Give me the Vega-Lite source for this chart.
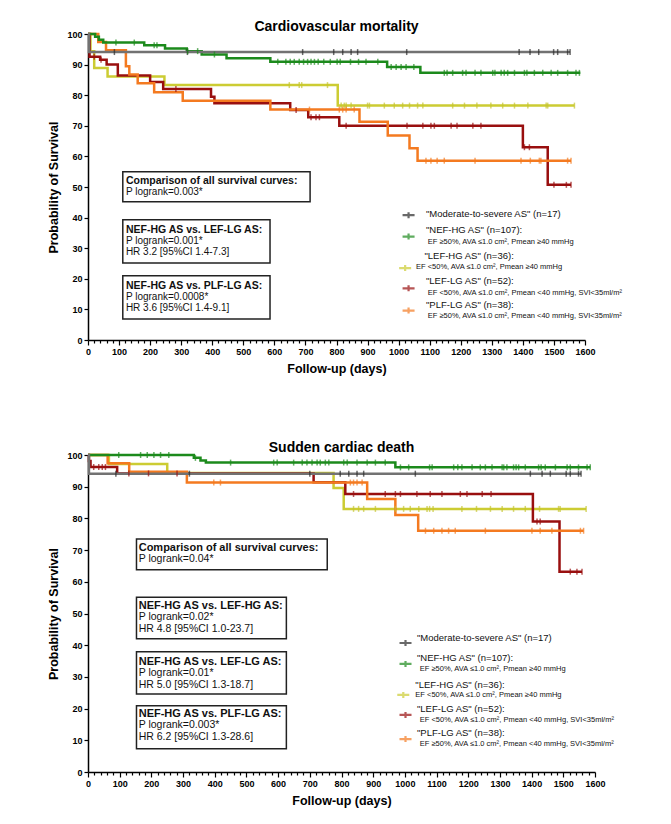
{
"$schema": "https://vega.github.io/schema/vega-lite/v6.json",
"background": "white",
"padding": {"left": 47, "top": 20, "right": 5, "bottom": 5},
"spacing": 66,
"config": {
  "font": "Liberation Sans",
  "view": {"stroke": null},
  "title": {"fontSize": 14, "fontWeight": "bold", "color": "#000", "anchor": "middle", "offset": -5, "baseline": "alphabetic"},
  "axis": {"grid": false, "domainColor": "#000", "domainWidth": 1.5, "tickColor": "#000", "tickWidth": 1.2, "labelFontSize": 9, "labelFontWeight": "bold", "labelColor": "#000", "titleFontSize": 12.5, "titleFontWeight": "bold", "titleColor": "#000", "labelFlush": false, "labelOverlap": false}
},
"datasets": {
  "top_km": [
    {"g":"LEF-HG","d":0,"s":100},{"g":"LEF-HG","d":8,"s":94.4},{"g":"LEF-HG","d":20,"s":88.9},{"g":"LEF-HG","d":63,"s":86.1},{"g":"LEF-HG","d":246,"s":83.3},{"g":"LEF-HG","d":804,"s":76.6},{"g":"LEF-HG","d":1566,"s":76.6},
    {"g":"LEF-LG","d":0,"s":100},{"g":"LEF-LG","d":5,"s":92.6},{"g":"LEF-LG","d":39,"s":91.6},{"g":"LEF-LG","d":60,"s":90.0},{"g":"LEF-LG","d":96,"s":86.4},{"g":"LEF-LG","d":200,"s":84.3},{"g":"LEF-LG","d":242,"s":82.0},{"g":"LEF-LG","d":396,"s":79.5},{"g":"LEF-LG","d":407,"s":77.4},{"g":"LEF-LG","d":651,"s":75.2},{"g":"LEF-LG","d":709,"s":72.8},{"g":"LEF-LG","d":809,"s":70.0},{"g":"LEF-LG","d":1400,"s":63.0},{"g":"LEF-LG","d":1480,"s":50.7},{"g":"LEF-LG","d":1555,"s":50.7},
    {"g":"PLF-LG","d":0,"s":100},{"g":"PLF-LG","d":33,"s":97.4},{"g":"PLF-LG","d":58,"s":94.7},{"g":"PLF-LG","d":122,"s":89.5},{"g":"PLF-LG","d":133,"s":86.8},{"g":"PLF-LG","d":160,"s":83.9},{"g":"PLF-LG","d":213,"s":81.0},{"g":"PLF-LG","d":305,"s":78.2},{"g":"PLF-LG","d":587,"s":75.3},{"g":"PLF-LG","d":874,"s":71.3},{"g":"PLF-LG","d":965,"s":66.8},{"g":"PLF-LG","d":1035,"s":62.7},{"g":"PLF-LG","d":1061,"s":58.6},{"g":"PLF-LG","d":1555,"s":58.6},
    {"g":"NEF-HG","d":0,"s":100},{"g":"NEF-HG","d":23,"s":99.1},{"g":"NEF-HG","d":35,"s":98.1},{"g":"NEF-HG","d":49,"s":97.2},{"g":"NEF-HG","d":181,"s":96.3},{"g":"NEF-HG","d":248,"s":95.3},{"g":"NEF-HG","d":318,"s":94.4},{"g":"NEF-HG","d":366,"s":93.3},{"g":"NEF-HG","d":446,"s":92.1},{"g":"NEF-HG","d":587,"s":90.9},{"g":"NEF-HG","d":963,"s":89.2},{"g":"NEF-HG","d":1070,"s":87.3},{"g":"NEF-HG","d":1585,"s":87.3},
    {"g":"Moderate","d":0,"s":100},{"g":"Moderate","d":3,"s":94.1},{"g":"Moderate","d":1552,"s":94.1}
  ],
  "top_cens": [
    {"g":"Moderate","d":85,"s":94.1},{"g":"Moderate","d":320,"s":94.1},{"g":"Moderate","d":691,"s":94.1},{"g":"Moderate","d":791,"s":94.1},{"g":"Moderate","d":820,"s":94.1},{"g":"Moderate","d":847,"s":94.1},{"g":"Moderate","d":868,"s":94.1},{"g":"Moderate","d":1026,"s":94.1},{"g":"Moderate","d":1388,"s":94.1},{"g":"Moderate","d":1423,"s":94.1},{"g":"Moderate","d":1451,"s":94.1},{"g":"Moderate","d":1499,"s":94.1},{"g":"Moderate","d":1512,"s":94.1},{"g":"Moderate","d":1544,"s":94.1},{"g":"Moderate","d":1552,"s":94.1},
    {"g":"NEF-HG","d":90,"s":97.2},{"g":"NEF-HG","d":149,"s":97.2},{"g":"NEF-HG","d":213,"s":96.3},{"g":"NEF-HG","d":222,"s":96.3},{"g":"NEF-HG","d":321,"s":94.4},{"g":"NEF-HG","d":353,"s":94.4},{"g":"NEF-HG","d":407,"s":93.3},
    {"g":"NEF-HG","d":611,"s":90.9},{"g":"NEF-HG","d":637,"s":90.9},{"g":"NEF-HG","d":651,"s":90.9},{"g":"NEF-HG","d":664,"s":90.9},{"g":"NEF-HG","d":680,"s":90.9},{"g":"NEF-HG","d":694,"s":90.9},{"g":"NEF-HG","d":707,"s":90.9},{"g":"NEF-HG","d":718,"s":90.9},{"g":"NEF-HG","d":729,"s":90.9},{"g":"NEF-HG","d":741,"s":90.9},{"g":"NEF-HG","d":759,"s":90.9},{"g":"NEF-HG","d":780,"s":90.9},{"g":"NEF-HG","d":802,"s":90.9},{"g":"NEF-HG","d":812,"s":90.9},{"g":"NEF-HG","d":845,"s":90.9},{"g":"NEF-HG","d":871,"s":90.9},{"g":"NEF-HG","d":895,"s":90.9},{"g":"NEF-HG","d":933,"s":90.9},
    {"g":"NEF-HG","d":976,"s":89.2},{"g":"NEF-HG","d":992,"s":89.2},{"g":"NEF-HG","d":1008,"s":89.2},{"g":"NEF-HG","d":1024,"s":89.2},{"g":"NEF-HG","d":1049,"s":89.2},
    {"g":"NEF-HG","d":1147,"s":87.3},{"g":"NEF-HG","d":1156,"s":87.3},{"g":"NEF-HG","d":1174,"s":87.3},{"g":"NEF-HG","d":1206,"s":87.3},{"g":"NEF-HG","d":1217,"s":87.3},{"g":"NEF-HG","d":1246,"s":87.3},{"g":"NEF-HG","d":1265,"s":87.3},{"g":"NEF-HG","d":1303,"s":87.3},{"g":"NEF-HG","d":1310,"s":87.3},{"g":"NEF-HG","d":1330,"s":87.3},{"g":"NEF-HG","d":1340,"s":87.3},{"g":"NEF-HG","d":1351,"s":87.3},{"g":"NEF-HG","d":1373,"s":87.3},{"g":"NEF-HG","d":1405,"s":87.3},{"g":"NEF-HG","d":1413,"s":87.3},{"g":"NEF-HG","d":1437,"s":87.3},{"g":"NEF-HG","d":1464,"s":87.3},{"g":"NEF-HG","d":1491,"s":87.3},{"g":"NEF-HG","d":1512,"s":87.3},{"g":"NEF-HG","d":1544,"s":87.3},{"g":"NEF-HG","d":1571,"s":87.3},{"g":"NEF-HG","d":1582,"s":87.3},
    {"g":"LEF-HG","d":648,"s":83.3},{"g":"LEF-HG","d":680,"s":83.3},{"g":"LEF-HG","d":688,"s":83.3},{"g":"LEF-HG","d":771,"s":83.3},
    {"g":"LEF-HG","d":815,"s":76.6},{"g":"LEF-HG","d":825,"s":76.6},{"g":"LEF-HG","d":831,"s":76.6},{"g":"LEF-HG","d":847,"s":76.6},{"g":"LEF-HG","d":900,"s":76.6},{"g":"LEF-HG","d":906,"s":76.6},{"g":"LEF-HG","d":954,"s":76.6},{"g":"LEF-HG","d":986,"s":76.6},{"g":"LEF-HG","d":1013,"s":76.6},{"g":"LEF-HG","d":1035,"s":76.6},{"g":"LEF-HG","d":1061,"s":76.6},{"g":"LEF-HG","d":1078,"s":76.6},{"g":"LEF-HG","d":1174,"s":76.6},{"g":"LEF-HG","d":1212,"s":76.6},{"g":"LEF-HG","d":1252,"s":76.6},{"g":"LEF-HG","d":1297,"s":76.6},{"g":"LEF-HG","d":1335,"s":76.6},{"g":"LEF-HG","d":1373,"s":76.6},{"g":"LEF-HG","d":1416,"s":76.6},{"g":"LEF-HG","d":1475,"s":76.6},{"g":"LEF-HG","d":1480,"s":76.6},{"g":"LEF-HG","d":1566,"s":76.6},
    {"g":"LEF-LG","d":20,"s":92.6},{"g":"LEF-LG","d":42,"s":91.6},{"g":"LEF-LG","d":283,"s":82.0},{"g":"LEF-LG","d":670,"s":75.2},{"g":"LEF-LG","d":718,"s":72.8},{"g":"LEF-LG","d":734,"s":72.8},{"g":"LEF-LG","d":745,"s":72.8},{"g":"LEF-LG","d":831,"s":70.0},{"g":"LEF-LG","d":1027,"s":70.0},{"g":"LEF-LG","d":1078,"s":70.0},{"g":"LEF-LG","d":1104,"s":70.0},{"g":"LEF-LG","d":1115,"s":70.0},{"g":"LEF-LG","d":1169,"s":70.0},{"g":"LEF-LG","d":1188,"s":70.0},{"g":"LEF-LG","d":1239,"s":70.0},{"g":"LEF-LG","d":1265,"s":70.0},{"g":"LEF-LG","d":1405,"s":63.0},{"g":"LEF-LG","d":1421,"s":63.0},{"g":"LEF-LG","d":1500,"s":50.7},{"g":"LEF-LG","d":1540,"s":50.7},{"g":"LEF-LG","d":1555,"s":50.7},
    {"g":"PLF-LG","d":713,"s":75.3},{"g":"PLF-LG","d":809,"s":75.3},{"g":"PLF-LG","d":820,"s":75.3},{"g":"PLF-LG","d":831,"s":75.3},{"g":"PLF-LG","d":857,"s":75.3},{"g":"PLF-LG","d":1088,"s":58.6},{"g":"PLF-LG","d":1104,"s":58.6},{"g":"PLF-LG","d":1124,"s":58.6},{"g":"PLF-LG","d":1147,"s":58.6},{"g":"PLF-LG","d":1246,"s":58.6},{"g":"PLF-LG","d":1394,"s":58.6},{"g":"PLF-LG","d":1424,"s":58.6},{"g":"PLF-LG","d":1453,"s":58.6},{"g":"PLF-LG","d":1458,"s":58.6},{"g":"PLF-LG","d":1544,"s":58.6},{"g":"PLF-LG","d":1555,"s":58.6}
  ],
  "bot_km": [
    {"g":"LEF-HG","d":0,"s":100},{"g":"LEF-HG","d":66,"s":97.2},{"g":"LEF-HG","d":250,"s":94.3},{"g":"LEF-HG","d":775,"s":89.6},{"g":"LEF-HG","d":807,"s":83.0},{"g":"LEF-HG","d":1572,"s":83.0},
    {"g":"LEF-LG","d":0,"s":100},{"g":"LEF-LG","d":3,"s":98.1},{"g":"LEF-LG","d":8,"s":96.2},{"g":"LEF-LG","d":92,"s":94.2},{"g":"LEF-LG","d":712,"s":91.4},{"g":"LEF-LG","d":812,"s":87.7},{"g":"LEF-LG","d":1404,"s":79.0},{"g":"LEF-LG","d":1488,"s":63.2},{"g":"LEF-LG","d":1559,"s":63.2},
    {"g":"PLF-LG","d":0,"s":100},{"g":"PLF-LG","d":62,"s":97.4},{"g":"PLF-LG","d":130,"s":94.7},{"g":"PLF-LG","d":312,"s":91.3},{"g":"PLF-LG","d":881,"s":86.1},{"g":"PLF-LG","d":970,"s":81.1},{"g":"PLF-LG","d":1042,"s":76.1},{"g":"PLF-LG","d":1564,"s":76.1},
    {"g":"NEF-HG","d":0,"s":100},{"g":"NEF-HG","d":334,"s":99.1},{"g":"NEF-HG","d":355,"s":98.3},{"g":"NEF-HG","d":372,"s":97.6},{"g":"NEF-HG","d":970,"s":96.1},{"g":"NEF-HG","d":1585,"s":96.1},
    {"g":"Moderate","d":0,"s":100},{"g":"Moderate","d":3,"s":94.1},{"g":"Moderate","d":1556,"s":94.1}
  ],
  "bot_cens": [
    {"g":"Moderate","d":88,"s":94.1},{"g":"Moderate","d":320,"s":94.1},{"g":"Moderate","d":700,"s":94.1},{"g":"Moderate","d":796,"s":94.1},{"g":"Moderate","d":823,"s":94.1},{"g":"Moderate","d":849,"s":94.1},{"g":"Moderate","d":870,"s":94.1},{"g":"Moderate","d":1033,"s":94.1},{"g":"Moderate","d":1396,"s":94.1},{"g":"Moderate","d":1433,"s":94.1},{"g":"Moderate","d":1459,"s":94.1},{"g":"Moderate","d":1509,"s":94.1},{"g":"Moderate","d":1522,"s":94.1},{"g":"Moderate","d":1548,"s":94.1},{"g":"Moderate","d":1556,"s":94.1},
    {"g":"NEF-HG","d":97,"s":100},{"g":"NEF-HG","d":166,"s":100},{"g":"NEF-HG","d":187,"s":100},{"g":"NEF-HG","d":208,"s":100},{"g":"NEF-HG","d":229,"s":100},{"g":"NEF-HG","d":255,"s":100},{"g":"NEF-HG","d":339,"s":99.1},
    {"g":"NEF-HG","d":450,"s":97.6},{"g":"NEF-HG","d":586,"s":97.6},{"g":"NEF-HG","d":597,"s":97.6},{"g":"NEF-HG","d":649,"s":97.6},{"g":"NEF-HG","d":676,"s":97.6},{"g":"NEF-HG","d":691,"s":97.6},{"g":"NEF-HG","d":707,"s":97.6},{"g":"NEF-HG","d":723,"s":97.6},{"g":"NEF-HG","d":733,"s":97.6},{"g":"NEF-HG","d":749,"s":97.6},{"g":"NEF-HG","d":760,"s":97.6},{"g":"NEF-HG","d":807,"s":97.6},{"g":"NEF-HG","d":818,"s":97.6},{"g":"NEF-HG","d":849,"s":97.6},{"g":"NEF-HG","d":881,"s":97.6},{"g":"NEF-HG","d":907,"s":97.6},{"g":"NEF-HG","d":938,"s":97.6},
    {"g":"NEF-HG","d":986,"s":96.1},{"g":"NEF-HG","d":1012,"s":96.1},{"g":"NEF-HG","d":1078,"s":96.1},{"g":"NEF-HG","d":1086,"s":96.1},{"g":"NEF-HG","d":1154,"s":96.1},{"g":"NEF-HG","d":1167,"s":96.1},{"g":"NEF-HG","d":1180,"s":96.1},{"g":"NEF-HG","d":1212,"s":96.1},{"g":"NEF-HG","d":1238,"s":96.1},{"g":"NEF-HG","d":1254,"s":96.1},{"g":"NEF-HG","d":1275,"s":96.1},{"g":"NEF-HG","d":1307,"s":96.1},{"g":"NEF-HG","d":1312,"s":96.1},{"g":"NEF-HG","d":1322,"s":96.1},{"g":"NEF-HG","d":1343,"s":96.1},{"g":"NEF-HG","d":1351,"s":96.1},{"g":"NEF-HG","d":1359,"s":96.1},{"g":"NEF-HG","d":1380,"s":96.1},{"g":"NEF-HG","d":1422,"s":96.1},{"g":"NEF-HG","d":1430,"s":96.1},{"g":"NEF-HG","d":1443,"s":96.1},{"g":"NEF-HG","d":1475,"s":96.1},{"g":"NEF-HG","d":1512,"s":96.1},{"g":"NEF-HG","d":1522,"s":96.1},{"g":"NEF-HG","d":1548,"s":96.1},{"g":"NEF-HG","d":1575,"s":96.1},{"g":"NEF-HG","d":1585,"s":96.1},
    {"g":"LEF-HG","d":838,"s":83.0},{"g":"LEF-HG","d":854,"s":83.0},{"g":"LEF-HG","d":870,"s":83.0},{"g":"LEF-HG","d":907,"s":83.0},{"g":"LEF-HG","d":970,"s":83.0},{"g":"LEF-HG","d":996,"s":83.0},{"g":"LEF-HG","d":1017,"s":83.0},{"g":"LEF-HG","d":1044,"s":83.0},{"g":"LEF-HG","d":1070,"s":83.0},{"g":"LEF-HG","d":1078,"s":83.0},{"g":"LEF-HG","d":1089,"s":83.0},{"g":"LEF-HG","d":1180,"s":83.0},{"g":"LEF-HG","d":1226,"s":83.0},{"g":"LEF-HG","d":1270,"s":83.0},{"g":"LEF-HG","d":1307,"s":83.0},{"g":"LEF-HG","d":1343,"s":83.0},{"g":"LEF-HG","d":1380,"s":83.0},{"g":"LEF-HG","d":1425,"s":83.0},{"g":"LEF-HG","d":1485,"s":83.0},{"g":"LEF-HG","d":1490,"s":83.0},{"g":"LEF-HG","d":1572,"s":83.0},
    {"g":"LEF-LG","d":18,"s":96.2},{"g":"LEF-LG","d":34,"s":96.2},{"g":"LEF-LG","d":45,"s":96.2},{"g":"LEF-LG","d":55,"s":96.2},{"g":"LEF-LG","d":129,"s":94.2},{"g":"LEF-LG","d":191,"s":94.2},{"g":"LEF-LG","d":281,"s":94.2},{"g":"LEF-LG","d":838,"s":87.7},{"g":"LEF-LG","d":938,"s":87.7},{"g":"LEF-LG","d":970,"s":87.7},{"g":"LEF-LG","d":986,"s":87.7},{"g":"LEF-LG","d":1038,"s":87.7},{"g":"LEF-LG","d":1080,"s":87.7},{"g":"LEF-LG","d":1117,"s":87.7},{"g":"LEF-LG","d":1175,"s":87.7},{"g":"LEF-LG","d":1196,"s":87.7},{"g":"LEF-LG","d":1244,"s":87.7},{"g":"LEF-LG","d":1272,"s":87.7},{"g":"LEF-LG","d":1417,"s":79.0},{"g":"LEF-LG","d":1427,"s":79.0},{"g":"LEF-LG","d":1522,"s":63.2},{"g":"LEF-LG","d":1543,"s":63.2},{"g":"LEF-LG","d":1559,"s":63.2},
    {"g":"PLF-LG","d":397,"s":91.3},{"g":"PLF-LG","d":418,"s":91.3},{"g":"PLF-LG","d":828,"s":91.3},{"g":"PLF-LG","d":838,"s":91.3},{"g":"PLF-LG","d":849,"s":91.3},{"g":"PLF-LG","d":865,"s":91.3},{"g":"PLF-LG","d":1065,"s":76.1},{"g":"PLF-LG","d":1091,"s":76.1},{"g":"PLF-LG","d":1117,"s":76.1},{"g":"PLF-LG","d":1138,"s":76.1},{"g":"PLF-LG","d":1159,"s":76.1},{"g":"PLF-LG","d":1254,"s":76.1},{"g":"PLF-LG","d":1401,"s":76.1},{"g":"PLF-LG","d":1427,"s":76.1},{"g":"PLF-LG","d":1464,"s":76.1},{"g":"PLF-LG","d":1554,"s":76.1},{"g":"PLF-LG","d":1564,"s":76.1}
  ]
},
"vconcat": [
  {
    "width": 497, "height": 306,
    "title": "Cardiovascular mortality",
    "layer": [
      {"data": {"name": "top_km"}, "mark": {"type": "line", "interpolate": "step-after", "strokeWidth": 2.5},
       "encoding": {
         "x": {"field": "d", "type": "quantitative", "scale": {"domain": [0, 1600], "nice": false},
               "axis": {"title": "Follow-up (days)", "format": "d", "labelOverlap": false, "tickCount": 200, "values": [0,20,40,60,80,100,120,140,160,180,200,220,240,260,280,300,320,340,360,380,400,420,440,460,480,500,520,540,560,580,600,620,640,660,680,700,720,740,760,780,800,820,840,860,880,900,920,940,960,980,1000,1020,1040,1060,1080,1100,1120,1140,1160,1180,1200,1220,1240,1260,1280,1300,1320,1340,1360,1380,1400,1420,1440,1460,1480,1500,1520,1540,1560,1580,1600],
                        "labelExpr": "datum.value % 100 === 0 ? datum.label : ''", "tickSize": {"condition": {"test": "datum.value % 100 === 0", "value": 5}, "value": 3}, "labelPadding": 2, "titlePadding": 6}},
         "y": {"field": "s", "type": "quantitative", "scale": {"domain": [0, 100], "nice": false},
               "axis": {"title": "Probability of Survival", "format": "d", "labelOverlap": false, "tickCount": 50, "values": [0,10,20,30,40,50,60,70,80,90,100], "tickSize": 4, "labelPadding": 2, "titlePadding": 6}},
         "stroke": {"field": "g", "type": "nominal", "scale": {"domain": ["Moderate","NEF-HG","LEF-HG","LEF-LG","PLF-LG"], "range": ["#727272","#1c8a1c","#cccc33","#990f0f","#f47a20"]}, "legend": null}
       }},
      {"data": {"name": "top_cens"}, "mark": {"type": "tick", "orient": "vertical", "size": 6, "thickness": 1.5},
       "encoding": {
         "x": {"field": "d", "type": "quantitative"},
         "y": {"field": "s", "type": "quantitative"},
         "fill": {"field": "g", "type": "nominal", "scale": {"domain": ["Moderate","NEF-HG","LEF-HG","LEF-LG","PLF-LG"], "range": ["#2b2b2b","#1c8a1c","#c4c42e","#990f0f","#f47a20"]}, "legend": null}
       }},
      {"data": {"values": [{}]}, "mark": {"type": "rect", "filled": false, "stroke": "#222", "strokeWidth": 1.5}, "encoding": {"x": {"datum": 112}, "x2": {"datum": 715}, "y": {"datum": 45.2}, "y2": {"datum": 55.0}}},
      {"data": {"values": [{}]}, "mark": {"type": "rect", "filled": false, "stroke": "#222", "strokeWidth": 1.5}, "encoding": {"x": {"datum": 112}, "x2": {"datum": 586}, "y": {"datum": 25.2}, "y2": {"datum": 39.3}}},
      {"data": {"values": [{}]}, "mark": {"type": "rect", "filled": false, "stroke": "#222", "strokeWidth": 1.5}, "encoding": {"x": {"datum": 112}, "x2": {"datum": 586}, "y": {"datum": 6.9}, "y2": {"datum": 21.0}}},
      {"data": {"values": [{}]}, "mark": {"type": "text", "text": "Comparison of all survival curves:", "align": "left", "baseline": "middle", "fontSize": 10.5, "fontWeight": "bold", "color": "#111"}, "encoding": {"x": {"datum": 122}, "y": {"datum": 51.9}}},
      {"data": {"values": [{}]}, "mark": {"type": "text", "text": "P logrank=0.003*", "align": "left", "baseline": "middle", "fontSize": 10, "color": "#111"}, "encoding": {"x": {"datum": 122}, "y": {"datum": 48.3}}},
      {"data": {"values": [{}]}, "mark": {"type": "text", "text": "NEF-HG AS vs. LEF-LG AS:", "align": "left", "baseline": "middle", "fontSize": 10.5, "fontWeight": "bold", "color": "#111"}, "encoding": {"x": {"datum": 122}, "y": {"datum": 36.0}}},
      {"data": {"values": [{}]}, "mark": {"type": "text", "text": "P logrank=0.001*", "align": "left", "baseline": "middle", "fontSize": 10, "color": "#111"}, "encoding": {"x": {"datum": 122}, "y": {"datum": 32.4}}},
      {"data": {"values": [{}]}, "mark": {"type": "text", "text": "HR 3.2 [95%CI 1.4-7.3]", "align": "left", "baseline": "middle", "fontSize": 10, "color": "#111"}, "encoding": {"x": {"datum": 122}, "y": {"datum": 28.9}}},
      {"data": {"values": [{}]}, "mark": {"type": "text", "text": "NEF-HG AS vs. PLF-LG AS:", "align": "left", "baseline": "middle", "fontSize": 10.5, "fontWeight": "bold", "color": "#111"}, "encoding": {"x": {"datum": 122}, "y": {"datum": 17.7}}},
      {"data": {"values": [{}]}, "mark": {"type": "text", "text": "P logrank=0.0008*", "align": "left", "baseline": "middle", "fontSize": 10, "color": "#111"}, "encoding": {"x": {"datum": 122}, "y": {"datum": 14.1}}},
      {"data": {"values": [{}]}, "mark": {"type": "text", "text": "HR 3.6 [95%CI 1.4-9.1]", "align": "left", "baseline": "middle", "fontSize": 10, "color": "#111"}, "encoding": {"x": {"datum": 122}, "y": {"datum": 10.6}}},
      {"data": {"values": [{}]}, "mark": {"type": "point", "shape": "M-1,0H1M0,-0.5V0.5", "size": 144, "filled": false, "strokeWidth": 2.2, "color": "#2b2b2b"}, "encoding": {"x": {"datum": 1032}, "y": {"datum": 40.8}}},
      {"data": {"values": [{}]}, "mark": {"type": "text", "text": "\"Moderate-to-severe AS\" (n=17)", "align": "left", "baseline": "middle", "fontSize": 9.5, "color": "#111"}, "encoding": {"x": {"datum": 1088}, "y": {"datum": 41.2}}},
      {"data": {"values": [{}]}, "mark": {"type": "point", "shape": "M-1,0H1M0,-0.5V0.5", "size": 144, "filled": false, "strokeWidth": 2.2, "color": "#1c8a1c"}, "encoding": {"x": {"datum": 1032}, "y": {"datum": 33.8}}},
      {"data": {"values": [{}]}, "mark": {"type": "text", "text": "\"NEF-HG AS\" (n=107):", "align": "left", "baseline": "middle", "fontSize": 9.5, "color": "#111"}, "encoding": {"x": {"datum": 1088}, "y": {"datum": 36.0}}},
      {"data": {"values": [{}]}, "mark": {"type": "text", "text": "EF ≥50%, AVA ≤1.0 cm², Pmean ≥40 mmHg", "align": "left", "baseline": "middle", "fontSize": 7.5, "color": "#111"}, "encoding": {"x": {"datum": 1094}, "y": {"datum": 32.1}}},
      {"data": {"values": [{}]}, "mark": {"type": "point", "shape": "M-1,0H1M0,-0.5V0.5", "size": 144, "filled": false, "strokeWidth": 2.2, "color": "#cccc33"}, "encoding": {"x": {"datum": 1021}, "y": {"datum": 23.5}}},
      {"data": {"values": [{}]}, "mark": {"type": "text", "text": "\"LEF-HG AS\" (n=36):", "align": "left", "baseline": "middle", "fontSize": 9.5, "color": "#111"}, "encoding": {"x": {"datum": 1083}, "y": {"datum": 27.5}}},
      {"data": {"values": [{}]}, "mark": {"type": "text", "text": "EF <50%, AVA ≤1.0 cm², Pmean ≥40 mmHg", "align": "left", "baseline": "middle", "fontSize": 7.5, "color": "#111"}, "encoding": {"x": {"datum": 1056}, "y": {"datum": 23.8}}},
      {"data": {"values": [{}]}, "mark": {"type": "point", "shape": "M-1,0H1M0,-0.5V0.5", "size": 144, "filled": false, "strokeWidth": 2.2, "color": "#990f0f"}, "encoding": {"x": {"datum": 1032}, "y": {"datum": 16.9}}},
      {"data": {"values": [{}]}, "mark": {"type": "text", "text": "\"LEF-LG AS\" (n=52):", "align": "left", "baseline": "middle", "fontSize": 9.5, "color": "#111"}, "encoding": {"x": {"datum": 1088}, "y": {"datum": 19.2}}},
      {"data": {"values": [{}]}, "mark": {"type": "text", "text": "EF <50%, AVA ≤1.0 cm², Pmean <40 mmHg, SVI<35ml/m²", "align": "left", "baseline": "middle", "fontSize": 7.5, "color": "#111"}, "encoding": {"x": {"datum": 1094}, "y": {"datum": 15.3}}},
      {"data": {"values": [{}]}, "mark": {"type": "point", "shape": "M-1,0H1M0,-0.5V0.5", "size": 144, "filled": false, "strokeWidth": 2.2, "color": "#f47a20"}, "encoding": {"x": {"datum": 1032}, "y": {"datum": 9.6}}},
      {"data": {"values": [{}]}, "mark": {"type": "text", "text": "\"PLF-LG AS\" (n=38):", "align": "left", "baseline": "middle", "fontSize": 9.5, "color": "#111"}, "encoding": {"x": {"datum": 1088}, "y": {"datum": 11.4}}},
      {"data": {"values": [{}]}, "mark": {"type": "text", "text": "EF ≥50%, AVA ≤1.0 cm², Pmean <40 mmHg, SVI<35ml/m²", "align": "left", "baseline": "middle", "fontSize": 7.5, "color": "#111"}, "encoding": {"x": {"datum": 1094}, "y": {"datum": 7.7}}}
    ]
  },
  {
    "width": 507, "height": 317,
    "title": "Sudden cardiac death",
    "layer": [
      {"data": {"name": "bot_km"}, "mark": {"type": "line", "interpolate": "step-after", "strokeWidth": 2.5},
       "encoding": {
         "x": {"field": "d", "type": "quantitative", "scale": {"domain": [0, 1600], "nice": false},
               "axis": {"title": "Follow-up (days)", "format": "d", "labelOverlap": false, "tickCount": 200, "values": [0,20,40,60,80,100,120,140,160,180,200,220,240,260,280,300,320,340,360,380,400,420,440,460,480,500,520,540,560,580,600,620,640,660,680,700,720,740,760,780,800,820,840,860,880,900,920,940,960,980,1000,1020,1040,1060,1080,1100,1120,1140,1160,1180,1200,1220,1240,1260,1280,1300,1320,1340,1360,1380,1400,1420,1440,1460,1480,1500,1520,1540,1560,1580,1600],
                        "labelExpr": "datum.value % 100 === 0 ? datum.label : ''", "tickSize": {"condition": {"test": "datum.value % 100 === 0", "value": 5}, "value": 3}, "labelPadding": 2, "titlePadding": 6}},
         "y": {"field": "s", "type": "quantitative", "scale": {"domain": [0, 100], "nice": false},
               "axis": {"title": "Probability of Survival", "format": "d", "labelOverlap": false, "tickCount": 50, "values": [0,10,20,30,40,50,60,70,80,90,100], "tickSize": 4, "labelPadding": 2, "titlePadding": 6}},
         "stroke": {"field": "g", "type": "nominal", "scale": {"domain": ["Moderate","NEF-HG","LEF-HG","LEF-LG","PLF-LG"], "range": ["#727272","#1c8a1c","#cccc33","#990f0f","#f47a20"]}, "legend": null}
       }},
      {"data": {"name": "bot_cens"}, "mark": {"type": "tick", "orient": "vertical", "size": 6, "thickness": 1.5},
       "encoding": {
         "x": {"field": "d", "type": "quantitative"},
         "y": {"field": "s", "type": "quantitative"},
         "fill": {"field": "g", "type": "nominal", "scale": {"domain": ["Moderate","NEF-HG","LEF-HG","LEF-LG","PLF-LG"], "range": ["#2b2b2b","#1c8a1c","#c4c42e","#990f0f","#f47a20"]}, "legend": null}
       }},
      {"data": {"values": [{}]}, "mark": {"type": "rect", "filled": false, "stroke": "#222", "strokeWidth": 1.5}, "encoding": {"x": {"datum": 153}, "x2": {"datum": 755}, "y": {"datum": 63.8}, "y2": {"datum": 73.5}}},
      {"data": {"values": [{}]}, "mark": {"type": "rect", "filled": false, "stroke": "#222", "strokeWidth": 1.5}, "encoding": {"x": {"datum": 153}, "x2": {"datum": 626}, "y": {"datum": 42.0}, "y2": {"datum": 55.1}}},
      {"data": {"values": [{}]}, "mark": {"type": "rect", "filled": false, "stroke": "#222", "strokeWidth": 1.5}, "encoding": {"x": {"datum": 153}, "x2": {"datum": 626}, "y": {"datum": 24.6}, "y2": {"datum": 37.9}}},
      {"data": {"values": [{}]}, "mark": {"type": "rect", "filled": false, "stroke": "#222", "strokeWidth": 1.5}, "encoding": {"x": {"datum": 153}, "x2": {"datum": 626}, "y": {"datum": 7.3}, "y2": {"datum": 20.9}}},
      {"data": {"values": [{}]}, "mark": {"type": "text", "text": "Comparison of all survival curves:", "align": "left", "baseline": "middle", "fontSize": 11, "fontWeight": "bold", "color": "#111"}, "encoding": {"x": {"datum": 160}, "y": {"datum": 70.8}}},
      {"data": {"values": [{}]}, "mark": {"type": "text", "text": "P logrank=0.04*", "align": "left", "baseline": "middle", "fontSize": 10.5, "color": "#111"}, "encoding": {"x": {"datum": 160}, "y": {"datum": 67.2}}},
      {"data": {"values": [{}]}, "mark": {"type": "text", "text": "NEF-HG AS vs. LEF-HG AS:", "align": "left", "baseline": "middle", "fontSize": 11, "fontWeight": "bold", "color": "#111"}, "encoding": {"x": {"datum": 160}, "y": {"datum": 52.4}}},
      {"data": {"values": [{}]}, "mark": {"type": "text", "text": "P logrank=0.02*", "align": "left", "baseline": "middle", "fontSize": 10.5, "color": "#111"}, "encoding": {"x": {"datum": 160}, "y": {"datum": 48.8}}},
      {"data": {"values": [{}]}, "mark": {"type": "text", "text": "HR 4.8 [95%CI 1.0-23.7]", "align": "left", "baseline": "middle", "fontSize": 10.5, "color": "#111"}, "encoding": {"x": {"datum": 160}, "y": {"datum": 45.2}}},
      {"data": {"values": [{}]}, "mark": {"type": "text", "text": "NEF-HG AS vs. LEF-LG AS:", "align": "left", "baseline": "middle", "fontSize": 11, "fontWeight": "bold", "color": "#111"}, "encoding": {"x": {"datum": 160}, "y": {"datum": 34.8}}},
      {"data": {"values": [{}]}, "mark": {"type": "text", "text": "P logrank=0.01*", "align": "left", "baseline": "middle", "fontSize": 10.5, "color": "#111"}, "encoding": {"x": {"datum": 160}, "y": {"datum": 31.2}}},
      {"data": {"values": [{}]}, "mark": {"type": "text", "text": "HR 5.0 [95%CI 1.3-18.7]", "align": "left", "baseline": "middle", "fontSize": 10.5, "color": "#111"}, "encoding": {"x": {"datum": 160}, "y": {"datum": 27.6}}},
      {"data": {"values": [{}]}, "mark": {"type": "text", "text": "NEF-HG AS vs. PLF-LG AS:", "align": "left", "baseline": "middle", "fontSize": 11, "fontWeight": "bold", "color": "#111"}, "encoding": {"x": {"datum": 160}, "y": {"datum": 18.3}}},
      {"data": {"values": [{}]}, "mark": {"type": "text", "text": "P logrank=0.003*", "align": "left", "baseline": "middle", "fontSize": 10.5, "color": "#111"}, "encoding": {"x": {"datum": 160}, "y": {"datum": 14.7}}},
      {"data": {"values": [{}]}, "mark": {"type": "text", "text": "HR 6.2 [95%CI 1.3-28.6]", "align": "left", "baseline": "middle", "fontSize": 10.5, "color": "#111"}, "encoding": {"x": {"datum": 160}, "y": {"datum": 11.1}}},
      {"data": {"values": [{}]}, "mark": {"type": "point", "shape": "M-1,0H1M0,-0.5V0.5", "size": 144, "filled": false, "strokeWidth": 2.2, "color": "#2b2b2b"}, "encoding": {"x": {"datum": 1002}, "y": {"datum": 40.7}}},
      {"data": {"values": [{}]}, "mark": {"type": "text", "text": "\"Moderate-to-severe AS\" (n=17)", "align": "left", "baseline": "middle", "fontSize": 9.5, "color": "#111"}, "encoding": {"x": {"datum": 1038}, "y": {"datum": 42.2}}},
      {"data": {"values": [{}]}, "mark": {"type": "point", "shape": "M-1,0H1M0,-0.5V0.5", "size": 144, "filled": false, "strokeWidth": 2.2, "color": "#1c8a1c"}, "encoding": {"x": {"datum": 1002}, "y": {"datum": 34.1}}},
      {"data": {"values": [{}]}, "mark": {"type": "text", "text": "\"NEF-HG AS\" (n=107):", "align": "left", "baseline": "middle", "fontSize": 9.5, "color": "#111"}, "encoding": {"x": {"datum": 1038}, "y": {"datum": 35.9}}},
      {"data": {"values": [{}]}, "mark": {"type": "text", "text": "EF ≥50%, AVA ≤1.0 cm², Pmean ≥40 mmHg", "align": "left", "baseline": "middle", "fontSize": 7.5, "color": "#111"}, "encoding": {"x": {"datum": 1047}, "y": {"datum": 32.5}}},
      {"data": {"values": [{}]}, "mark": {"type": "point", "shape": "M-1,0H1M0,-0.5V0.5", "size": 144, "filled": false, "strokeWidth": 2.2, "color": "#cccc33"}, "encoding": {"x": {"datum": 995}, "y": {"datum": 24.3}}},
      {"data": {"values": [{}]}, "mark": {"type": "text", "text": "\"LEF-HG AS\" (n=36):", "align": "left", "baseline": "middle", "fontSize": 9.5, "color": "#111"}, "encoding": {"x": {"datum": 1033}, "y": {"datum": 27.4}}},
      {"data": {"values": [{}]}, "mark": {"type": "text", "text": "EF <50%, AVA ≤1.0 cm², Pmean ≥40 mmHg", "align": "left", "baseline": "middle", "fontSize": 7.5, "color": "#111"}, "encoding": {"x": {"datum": 1033}, "y": {"datum": 24.3}}},
      {"data": {"values": [{}]}, "mark": {"type": "point", "shape": "M-1,0H1M0,-0.5V0.5", "size": 144, "filled": false, "strokeWidth": 2.2, "color": "#990f0f"}, "encoding": {"x": {"datum": 1002}, "y": {"datum": 18.0}}},
      {"data": {"values": [{}]}, "mark": {"type": "text", "text": "\"LEF-LG AS\" (n=52):", "align": "left", "baseline": "middle", "fontSize": 9.5, "color": "#111"}, "encoding": {"x": {"datum": 1038}, "y": {"datum": 19.9}}},
      {"data": {"values": [{}]}, "mark": {"type": "text", "text": "EF <50%, AVA ≤1.0 cm², Pmean <40 mmHg, SVI<35ml/m²", "align": "left", "baseline": "middle", "fontSize": 7.5, "color": "#111"}, "encoding": {"x": {"datum": 1047}, "y": {"datum": 16.4}}},
      {"data": {"values": [{}]}, "mark": {"type": "point", "shape": "M-1,0H1M0,-0.5V0.5", "size": 144, "filled": false, "strokeWidth": 2.2, "color": "#f47a20"}, "encoding": {"x": {"datum": 1002}, "y": {"datum": 10.4}}},
      {"data": {"values": [{}]}, "mark": {"type": "text", "text": "\"PLF-LG AS\" (n=38):", "align": "left", "baseline": "middle", "fontSize": 9.5, "color": "#111"}, "encoding": {"x": {"datum": 1038}, "y": {"datum": 12.3}}},
      {"data": {"values": [{}]}, "mark": {"type": "text", "text": "EF ≥50%, AVA ≤1.0 cm², Pmean <40 mmHg, SVI<35ml/m²", "align": "left", "baseline": "middle", "fontSize": 7.5, "color": "#111"}, "encoding": {"x": {"datum": 1047}, "y": {"datum": 8.8}}}
    ]
  }
]
}
